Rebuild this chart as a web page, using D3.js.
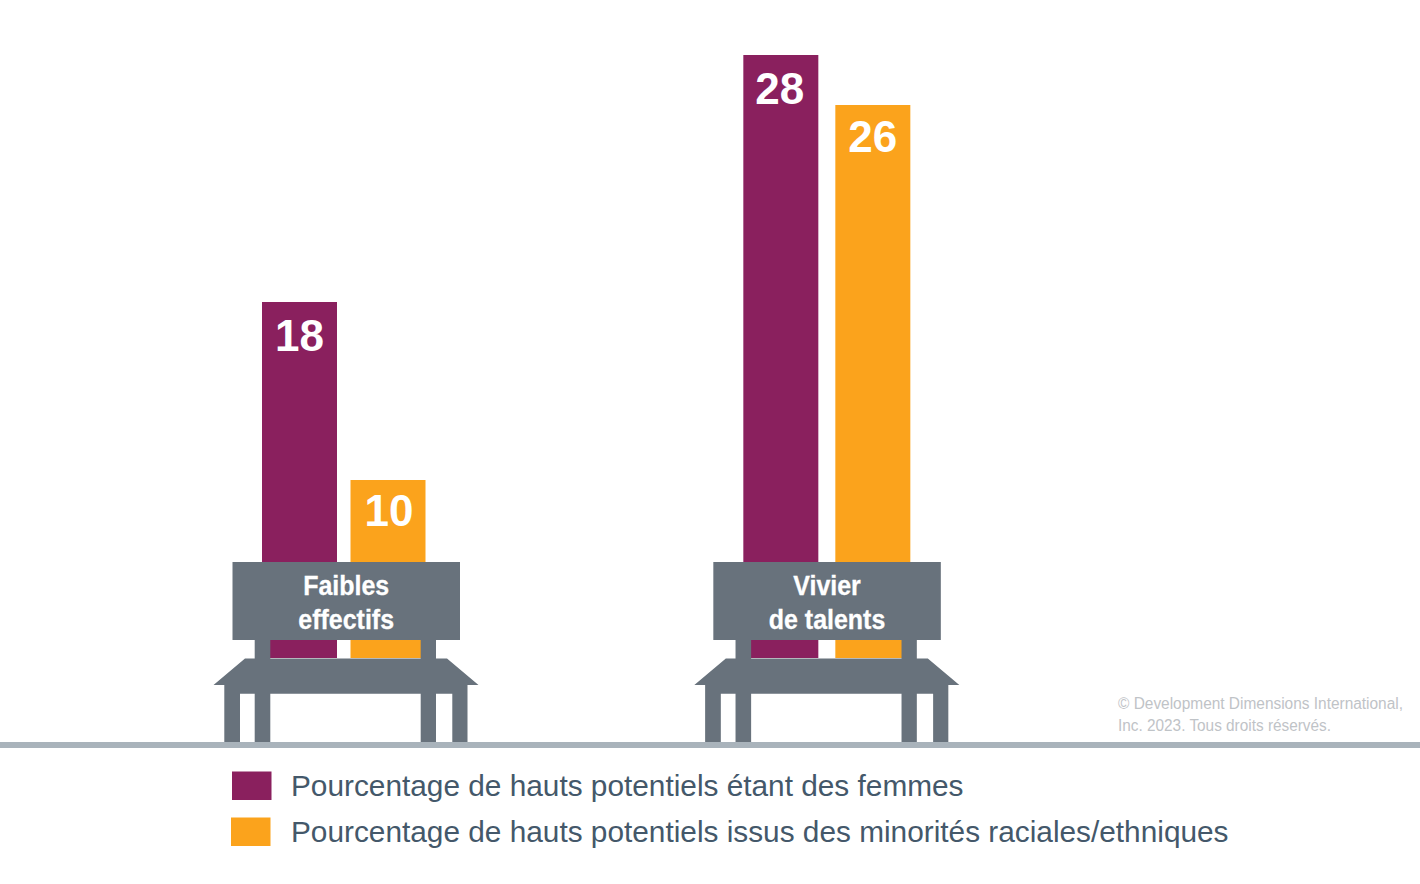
<!DOCTYPE html>
<html>
<head>
  <meta charset="utf-8">
  <script src="https://d3js.org/d3.v7.min.js"></script>
  <style>
    html, body { margin: 0; padding: 0; background: #fff; }
    svg { display: block; }
    text { font-family: "Liberation Sans", Arial, sans-serif; }
    .value { fill: #fff; font-weight: bold; font-size: 44px; text-anchor: middle; }
    .cat { fill: #fff; font-weight: bold; font-size: 27px; text-anchor: middle; stroke: #fff; stroke-width: 0.3px; }
    .legend { fill: #44586a; font-size: 29.8px; }
    .credit { fill: #bfc3c7; font-size: 16px; }
  </style>
</head>
<body>
<div id="chart"></div>
<script>
// data
var categories = ["Faibles effectifs", "Vivier de talents"];
var catLines = [["Faibles", "effectifs"], ["Vivier", "de talents"]];
var women = [18, 28];
var minorities = [10, 26];
var seriesNames = [
  "Pourcentage de hauts potentiels étant des femmes",
  "Pourcentage de hauts potentiels issus des minorités raciales/ethniques"
];
var seriesColors = ["#8a205e", "#fba31c"];
var credit = ["© Development Dimensions International,", "Inc. 2023. Tous droits réservés."];

var width = 1420, height = 884;
var groundY = 745;
var barBottom = 658;

var svg = d3.select("#chart").append("svg")
  .attr("width", width)
  .attr("height", height);

// the bars in the original are not strictly proportional, so the scale has several stops
var y = d3.scaleLinear()
  .domain([10, 18, 26, 28])
  .range([480, 302, 105, 55]);

// one band per bench
var x = d3.scaleBand()
  .domain(categories)
  .range([232.5, 941])
  .paddingInner(0.5265);

var barW = 75;
// second bar sits a little further out on the right bench
var barX = [[29.5, 118], [30, 122]];
// position of the number relative to the bar
var labelDx = [[0, 1], [-1, 0]];
var labelDy = [[49, 45.5], [49, 47]];
var catSquash = 0.925;  // labels are a bit condensed in the original

categories.forEach(function (cat, i) {
  var g = svg.append("g").attr("transform", "translate(" + x(cat) + ",0)");
  var vals = [women[i], minorities[i]];

  // bars first, the bench goes over them
  g.selectAll("rect.bar")
    .data(vals)
    .enter()
    .append("rect")
      .attr("class", "bar")
      .attr("x", function (d, j) { return barX[i][j]; })
      .attr("y", function (d) { return y(d); })
      .attr("width", barW)
      .attr("height", function (d) { return barBottom - y(d); })
      .attr("fill", function (d, j) { return seriesColors[j]; });

  g.selectAll("text.value")
    .data(vals)
    .enter()
    .append("text")
      .attr("class", "value")
      .attr("x", function (d, j) { return barX[i][j] + barW / 2 + labelDx[i][j]; })
      .attr("y", function (d, j) { return y(d) + labelDy[i][j]; })
      .text(function (d) { return d; });

  // bench, drawn relative to the left edge of its back
  var p = d3.path();
  p.rect(0, 562, 227.5, 78);           // back
  p.rect(22.2, 640, 15.6, 20);         // uprights
  p.rect(188.2, 640, 15.3, 20);
  p.moveTo(12.5, 658.5);               // seat
  p.lineTo(214.5, 658.5);
  p.lineTo(246, 685);
  p.lineTo(235, 685);
  p.lineTo(235, 742);
  p.lineTo(219.8, 742);
  p.lineTo(219.8, 693.7);
  p.lineTo(203.5, 693.7);
  p.lineTo(203.5, 742);
  p.lineTo(188.2, 742);
  p.lineTo(188.2, 693.7);
  p.lineTo(37.8, 693.7);
  p.lineTo(37.8, 742);
  p.lineTo(22.2, 742);
  p.lineTo(22.2, 693.7);
  p.lineTo(7.5, 693.7);
  p.lineTo(7.5, 742);
  p.lineTo(-8.2, 742);
  p.lineTo(-8.2, 685);
  p.lineTo(-19, 685);
  p.closePath();
  g.append("path").attr("d", p.toString()).attr("fill", "#68727c");

  g.selectAll("text.cat")
    .data(catLines[i])
    .enter()
    .append("text")
      .attr("class", "cat")
      .attr("transform", function (d, j) {
        return "translate(113.7," + (595 + j * 34) + ") scale(" + catSquash + ",1)";
      })
      .text(function (d) { return d; });
});

// ground line
svg.append("rect")
  .attr("x", 0).attr("y", groundY - 3)
  .attr("width", width).attr("height", 6)
  .attr("fill", "#a9b3bb");

// copyright, fitted to the width it has in the original
var creditW = [285, 213];
svg.selectAll("text.credit")
  .data(credit)
  .enter()
  .append("text")
    .attr("class", "credit")
    .attr("x", 1118)
    .attr("y", function (d, i) { return 709 + i * 21.5; })
    .attr("textLength", function (d, i) { return creditW[i]; })
    .attr("lengthAdjust", "spacingAndGlyphs")
    .text(function (d) { return d; });

// legend
var legendY = d3.scalePoint().domain(seriesNames).range([786, 832]);

svg.selectAll("rect.swatch")
  .data(seriesNames)
  .enter()
  .append("rect")
    .attr("class", "swatch")
    .attr("x", function (d, i) { return 232 - i; })
    .attr("y", function (d) { return legendY(d) - 14.5; })
    .attr("width", 39.5)
    .attr("height", 28.5)
    .attr("fill", function (d, i) { return seriesColors[i]; });

svg.selectAll("text.legend")
  .data(seriesNames)
  .enter()
  .append("text")
    .attr("class", "legend")
    .attr("x", 291)
    .attr("y", function (d) { return legendY(d) + 10; })
    .text(function (d) { return d; });
</script>
</body>
</html>
